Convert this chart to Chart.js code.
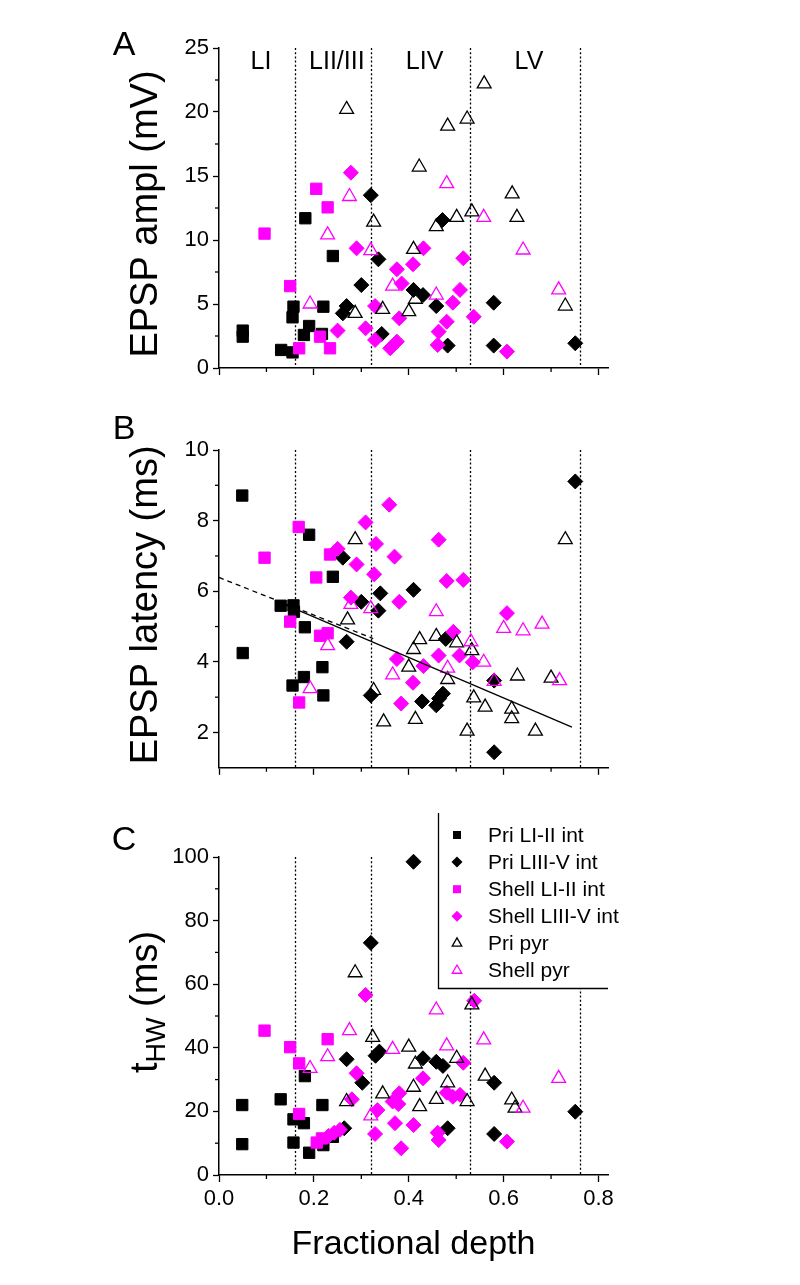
<!DOCTYPE html>
<html>
<head>
<meta charset="utf-8">
<script src="https://cdn.jsdelivr.net/npm/chart.js@4.4.1/dist/chart.umd.min.js"></script>
<style>
  html, body { margin: 0; padding: 0; background: #fff; }
  #wrap { position: relative; width: 800px; height: 1285px; overflow: hidden; }
  canvas { position: absolute; left: 0; }
</style>
</head>
<body>
<div id="wrap">
  <canvas id="panelA" width="800" height="390" style="top:0px"></canvas>
  <canvas id="panelB" width="800" height="395" style="top:390px"></canvas>
  <canvas id="panelC" width="800" height="500" style="top:785px"></canvas>
</div>
<script>
const fontFam = "'Liberation Sans', Arial, Helvetica, sans-serif";

// shared x axis
const xTicks = [0, 0.2, 0.4, 0.6, 0.8];
const xMinor = [0.1, 0.3, 0.5, 0.7];
const layerBounds = [0.16, 0.32, 0.53, 0.76];
const layerNames = ['LI', 'LII/III', 'LIV', 'LV'];
const seriesNames = ['Pri LI-II int', 'Pri LIII-V int', 'Shell LI-II int', 'Shell LIII-V int', 'Pri pyr', 'Shell pyr'];

// A: EPSP amplitude (mV)
const aTicks = [0, 5, 10, 15, 20, 25];
const aMinor = [2.5, 7.5, 12.5, 17.5, 22.5];
const aPriLI = [[0.182,11.7],[0.24,8.75],[0.157,4.79],[0.22,4.79],[0.155,3.96],[0.05,2.92],[0.05,2.45],[0.19,3.28],[0.179,2.58],[0.217,2.66],[0.131,1.41],[0.155,1.22]];
const aPriL3 = [[0.32,13.5],[0.471,11.56],[0.336,8.49],[0.3,6.48],[0.41,6.1],[0.43,5.7],[0.269,4.84],[0.261,4.27],[0.458,4.84],[0.579,5.1],[0.343,2.66],[0.482,1.75],[0.579,1.75],[0.751,1.93]];
const aShellLI = [[0.205,14.0],[0.229,12.55],[0.096,10.5],[0.15,6.4],[0.213,2.45],[0.169,1.54],[0.234,1.54]];
const aShellL3 = [[0.278,15.26],[0.29,9.35],[0.431,9.35],[0.375,7.71],[0.409,8.1],[0.515,8.57],[0.385,6.6],[0.508,6.1],[0.329,4.84],[0.493,5.1],[0.38,3.88],[0.48,3.62],[0.537,4.0],[0.25,2.92],[0.309,3.1],[0.329,2.19],[0.375,2.06],[0.361,1.54],[0.463,2.84],[0.461,1.8],[0.607,1.28]];
const aPriPyr = [[0.559,22.2],[0.269,20.2],[0.482,18.9],[0.523,19.45],[0.422,15.7],[0.618,13.6],[0.326,11.4],[0.458,11.04],[0.501,11.77],[0.533,12.2],[0.628,11.77],[0.41,9.27],[0.414,5.37],[0.287,4.27],[0.345,4.58],[0.4,4.4],[0.73,4.84]];
const aShellPyr = [[0.48,14.4],[0.275,13.4],[0.558,11.77],[0.229,10.4],[0.32,9.17],[0.641,9.22],[0.366,6.4],[0.458,5.7],[0.716,6.1],[0.192,5.0]];

// B: EPSP latency (ms)
const bTicks = [2, 4, 6, 8, 10];
const bMinor = [3, 5, 7, 9];
const bPriLI = [[0.049,8.71],[0.19,7.6],[0.24,6.41],[0.13,5.59],[0.157,5.6],[0.158,5.42],[0.181,4.98],[0.05,4.25],[0.218,3.85],[0.179,3.57],[0.155,3.33],[0.22,3.05]];
const bPriL3 = [[0.751,9.11],[0.261,6.95],[0.34,5.94],[0.41,6.04],[0.3,5.7],[0.336,5.45],[0.269,4.57],[0.478,4.65],[0.32,3.05],[0.58,3.47],[0.472,3.1],[0.464,2.96],[0.428,2.88],[0.458,2.77],[0.58,1.44]];
const bShellLI = [[0.168,7.82],[0.096,6.95],[0.234,7.04],[0.205,6.39],[0.15,5.14],[0.213,4.74],[0.229,4.81],[0.169,2.85]];
const bShellL3 = [[0.359,8.45],[0.309,7.95],[0.331,7.34],[0.463,7.46],[0.25,7.2],[0.37,6.98],[0.29,6.76],[0.327,6.48],[0.48,6.29],[0.515,6.32],[0.278,5.82],[0.38,5.7],[0.607,5.38],[0.494,4.85],[0.463,4.18],[0.507,4.18],[0.535,3.99],[0.375,4.08],[0.431,3.88],[0.409,3.41],[0.384,2.82]];
const bPriPyr = [[0.287,7.46],[0.73,7.46],[0.271,5.19],[0.458,4.72],[0.501,4.54],[0.423,4.63],[0.41,4.35],[0.533,4.32],[0.4,3.85],[0.482,3.5],[0.326,3.19],[0.629,3.6],[0.7,3.54],[0.537,2.98],[0.561,2.72],[0.617,2.66],[0.617,2.39],[0.347,2.3],[0.414,2.37],[0.523,2.04],[0.667,2.04]];
const bShellPyr = [[0.278,5.63],[0.32,5.51],[0.458,5.42],[0.229,4.46],[0.6,4.95],[0.641,4.88],[0.681,5.07],[0.531,4.57],[0.558,3.99],[0.482,3.82],[0.366,3.63],[0.192,3.24],[0.58,3.45],[0.718,3.47]];
const bFitDashed = [[0, 6.39], [0.325, 4.66]];
const bFitSolid = [[0.122, 5.72], [0.744, 2.15]];

// C: half-width (ms)
const cTicks = [0, 20, 40, 60, 80, 100];
const cMinor = [10, 30, 50, 70, 90];
const cPriLI = [[0.181,31.1],[0.049,22.0],[0.13,23.8],[0.218,22.0],[0.157,17.5],[0.179,16.3],[0.049,9.7],[0.157,10.2],[0.19,7.0],[0.22,9.4],[0.24,12.0]];
const cPriL3 = [[0.41,98.5],[0.32,73],[0.338,38.8],[0.33,37.5],[0.269,36.4],[0.43,36.7],[0.458,35.6],[0.472,34.3],[0.302,29.0],[0.58,29.0],[0.751,19.9],[0.482,14.7],[0.58,12.9],[0.264,14.7]];
const cShellLI = [[0.096,45.4],[0.229,42.7],[0.15,40.2],[0.169,35.1],[0.169,19.2],[0.206,10.2],[0.217,11.5]];
const cShellL3 = [[0.309,56.6],[0.538,54.8],[0.515,35.3],[0.29,32.0],[0.43,30.4],[0.38,25.7],[0.366,23.1],[0.378,22.3],[0.48,25.9],[0.493,24.6],[0.508,25.2],[0.28,23.8],[0.334,20.4],[0.371,16.3],[0.41,15.7],[0.461,13.3],[0.463,11.0],[0.607,10.5],[0.329,12.9],[0.384,8.4],[0.231,12.3],[0.243,13.3],[0.255,14.2]];
const cPriPyr = [[0.287,63.6],[0.533,53.5],[0.324,43.3],[0.4,40.2],[0.414,34.9],[0.501,36.7],[0.482,29.0],[0.561,31.1],[0.41,27.6],[0.345,25.5],[0.458,23.8],[0.523,23.1],[0.423,21.5],[0.617,23.6],[0.624,21.0],[0.269,23.1]];
const cShellPyr = [[0.458,51.9],[0.275,45.4],[0.558,42.5],[0.366,39.5],[0.48,40.6],[0.229,37.2],[0.192,33.5],[0.716,30.4],[0.641,21.0],[0.32,18.6]];

const seriesStyle = [
  { pointStyle: 'rect', color: '#000000', fill: true, r: 8 },
  { pointStyle: 'rectRot', color: '#000000', fill: true, r: 7.5 },
  { pointStyle: 'rect', color: '#ff00ff', fill: true, r: 8 },
  { pointStyle: 'rectRot', color: '#ff00ff', fill: true, r: 7.5 },
  { pointStyle: 'triangle', color: '#000000', fill: false, r: 8 },
  { pointStyle: 'triangle', color: '#ff00ff', fill: false, r: 8 }
];

Chart.defaults.font.family = fontFam;
Chart.defaults.color = '#000';

function toXY(arr) { return arr.map(p => ({ x: p[0], y: p[1] })); }

function pointSets(series) {
  return series.map((arr, i) => {
    const s = seriesStyle[i];
    return {
      label: seriesNames[i],
      data: toXY(arr),
      pointStyle: s.pointStyle,
      pointRadius: s.r,
      pointHoverRadius: s.r,
      backgroundColor: s.fill ? s.color : 'rgba(0,0,0,0)',
      borderColor: s.color,
      borderWidth: s.fill ? 1 : 1.3,
      order: 10 - i,
      clip: false
    };
  });
}

function drawMarker(ctx, st, x, y, r) {
  ctx.beginPath();
  if (st.pointStyle === 'rect') {
    ctx.rect(x - r, y - r, 2 * r, 2 * r);
  } else if (st.pointStyle === 'rectRot') {
    ctx.moveTo(x, y - r); ctx.lineTo(x + r, y); ctx.lineTo(x, y + r); ctx.lineTo(x - r, y);
  } else {
    ctx.moveTo(x, y - r); ctx.lineTo(x + r * 0.866, y + r * 0.5); ctx.lineTo(x - r * 0.866, y + r * 0.5);
  }
  ctx.closePath();
  if (st.fill) { ctx.fillStyle = st.color; ctx.fill(); }
  else { ctx.strokeStyle = st.color; ctx.lineWidth = 1.3; ctx.stroke(); }
}

function decor(p) {
  return {
    id: 'decor',
    beforeDatasetsDraw(chart) {
      const ctx = chart.ctx, ca = chart.chartArea, x = chart.scales.x;
      ctx.save();
      ctx.strokeStyle = '#000';
      ctx.lineWidth = 1.3;
      ctx.setLineDash([2, 2.2]);
      layerBounds.forEach(v => {
        const px = Math.round(x.getPixelForValue(v)) + 0.5;
        ctx.beginPath(); ctx.moveTo(px, ca.top); ctx.lineTo(px, ca.bottom); ctx.stroke();
      });
      ctx.restore();
    },
    afterDraw(chart) {
      const ctx = chart.ctx, ca = chart.chartArea, x = chart.scales.x, y = chart.scales.y;
      ctx.save();
      ctx.strokeStyle = '#000';
      ctx.lineWidth = 1.3;
      xMinor.forEach(v => {
        const px = x.getPixelForValue(v);
        ctx.beginPath(); ctx.moveTo(px, ca.bottom); ctx.lineTo(px, ca.bottom + 4); ctx.stroke();
      });
      p.yMinor.forEach(v => {
        const py = y.getPixelForValue(v);
        ctx.beginPath(); ctx.moveTo(ca.left, py); ctx.lineTo(ca.left - 4, py); ctx.stroke();
      });

      ctx.fillStyle = '#000';
      ctx.textAlign = 'center';
      ctx.textBaseline = 'middle';
      ctx.font = '34px ' + fontFam;
      ctx.fillText(p.letter, 124, p.letterY);

      if (p.layers) {
        ctx.font = '25px ' + fontFam;
        const bounds = [0].concat(layerBounds);
        layerNames.forEach((name, i) => {
          const mid = (bounds[i] + bounds[i + 1]) / 2;
          ctx.fillText(name, x.getPixelForValue(mid) + 4, ca.top + 14);
        });
      }

      // y-axis title (rotated)
      ctx.save();
      ctx.translate(147, (ca.top + ca.bottom) / 2 + p.titleShift);
      ctx.rotate(-Math.PI / 2);
      if (p.sub) {
        const big = '38px ' + fontFam, small = '27px ' + fontFam;
        ctx.font = big; const w1 = ctx.measureText(p.title).width;
        const w3 = ctx.measureText(p.titleEnd).width;
        ctx.font = small; const w2 = ctx.measureText(p.sub).width;
        let sx = -(w1 + w2 + w3) / 2;
        ctx.textAlign = 'left';
        ctx.font = big; ctx.fillText(p.title, sx, 0); sx += w1;
        ctx.font = small; ctx.fillText(p.sub, sx, 11); sx += w2;
        ctx.font = big; ctx.fillText(p.titleEnd, sx, 0);
      } else {
        ctx.font = '38px ' + fontFam;
        ctx.fillText(p.title, 0, 0);
      }
      ctx.restore();

      if (p.legend) {
        const top = 28, bottom = 203, left = 438;
        ctx.fillStyle = '#fff';
        ctx.fillRect(left, top, 800 - left, bottom - top);
        ctx.strokeStyle = '#000';
        ctx.lineWidth = 1.3;
        ctx.beginPath();
        ctx.moveTo(left + 0.5, top); ctx.lineTo(left + 0.5, bottom + 0.5); ctx.lineTo(608, bottom + 0.5);
        ctx.stroke();
        ctx.font = '21px ' + fontFam;
        ctx.textAlign = 'left';
        seriesNames.forEach((name, i) => {
          const ry = 50 + i * 27.1;
          const st = seriesStyle[i];
          drawMarker(ctx, st, 457, ry, st.pointStyle === 'rect' ? 4 : 5.5);
          ctx.fillStyle = '#000';
          ctx.fillText(name, 488, ry + 1);
        });
      }
      ctx.restore();
    }
  };
}

function makePanel(id, p) {
  const datasets = pointSets(p.series);
  (p.lines || []).forEach(l => datasets.push({
    type: 'line', data: toXY(l.data), showLine: true, borderColor: '#000', borderWidth: 1.3,
    borderDash: l.dash || [], pointRadius: 0, fill: false, order: 0, clip: false
  }));
  return new Chart(document.getElementById(id), {
    type: 'scatter',
    data: { datasets },
    options: {
      responsive: false,
      animation: false,
      devicePixelRatio: 1,
      layout: { padding: { left: 0, right: 192, top: p.padTop, bottom: 0 } },
      plugins: { legend: { display: false }, tooltip: { enabled: false } },
      scales: {
        x: {
          type: 'linear', min: 0, max: 0.82,
          afterBuildTicks: s => { s.ticks = xTicks.map(v => ({ value: v })); },
          afterFit: s => { s.height = p.xHeight; },
          ticks: { display: p.xLabels, autoSkip: false, maxRotation: 0, padding: 4,
                   font: { size: 22 }, callback: v => Number(v).toFixed(1) },
          grid: { display: true, drawOnChartArea: false, drawTicks: true, tickLength: 7,
                  color: '#000', tickColor: '#000', tickWidth: 1.3 },
          border: { display: true, color: '#000', width: 1.5 },
          title: { display: p.xLabels, text: 'Fractional depth', font: { size: 34 },
                   padding: { top: 0, bottom: 20 } }
        },
        y: {
          type: 'linear', min: p.yMin, max: p.yMax,
          afterBuildTicks: s => { s.ticks = p.yTicks.map(v => ({ value: v })); },
          afterFit: s => { s.width = 219; },
          ticks: { font: { size: 22 }, padding: 4 },
          grid: { display: true, drawOnChartArea: false, drawTicks: true, tickLength: 6,
                  color: '#000', tickColor: '#000', tickWidth: 1.3 },
          border: { display: true, color: '#000', width: 1.5 }
        }
      }
    },
    plugins: [decor(p)]
  });
}

makePanel('panelA', {
  series: [aPriLI, aPriL3, aShellLI, aShellL3, aPriPyr, aShellPyr],
  yMin: 0, yMax: 25, yTicks: aTicks, yMinor: aMinor,
  padTop: 48, xHeight: 22, xLabels: false,
  letter: 'A', letterY: 46, layers: true,
  title: 'EPSP ampl (mV)', titleShift: 6
});

makePanel('panelB', {
  series: [bPriLI, bPriL3, bShellLI, bShellL3, bPriPyr, bShellPyr],
  lines: [{ data: bFitDashed, dash: [5, 4] }, { data: bFitSolid }],
  yMin: 1, yMax: 10, yTicks: bTicks, yMinor: bMinor,
  padTop: 60, xHeight: 15, xLabels: false,
  letter: 'B', letterY: 40,
  title: 'EPSP latency (ms)', titleShift: -4
});

makePanel('panelC', {
  series: [cPriLI, cPriL3, cShellLI, cShellL3, cPriPyr, cShellPyr],
  yMin: 0, yMax: 100, yTicks: cTicks, yMinor: cMinor,
  padTop: 72, xHeight: 110, xLabels: true,
  letter: 'C', letterY: 56, legend: true,
  title: 't', sub: 'HW', titleEnd: ' (ms)', titleShift: -14
});
</script>
</body>
</html>
